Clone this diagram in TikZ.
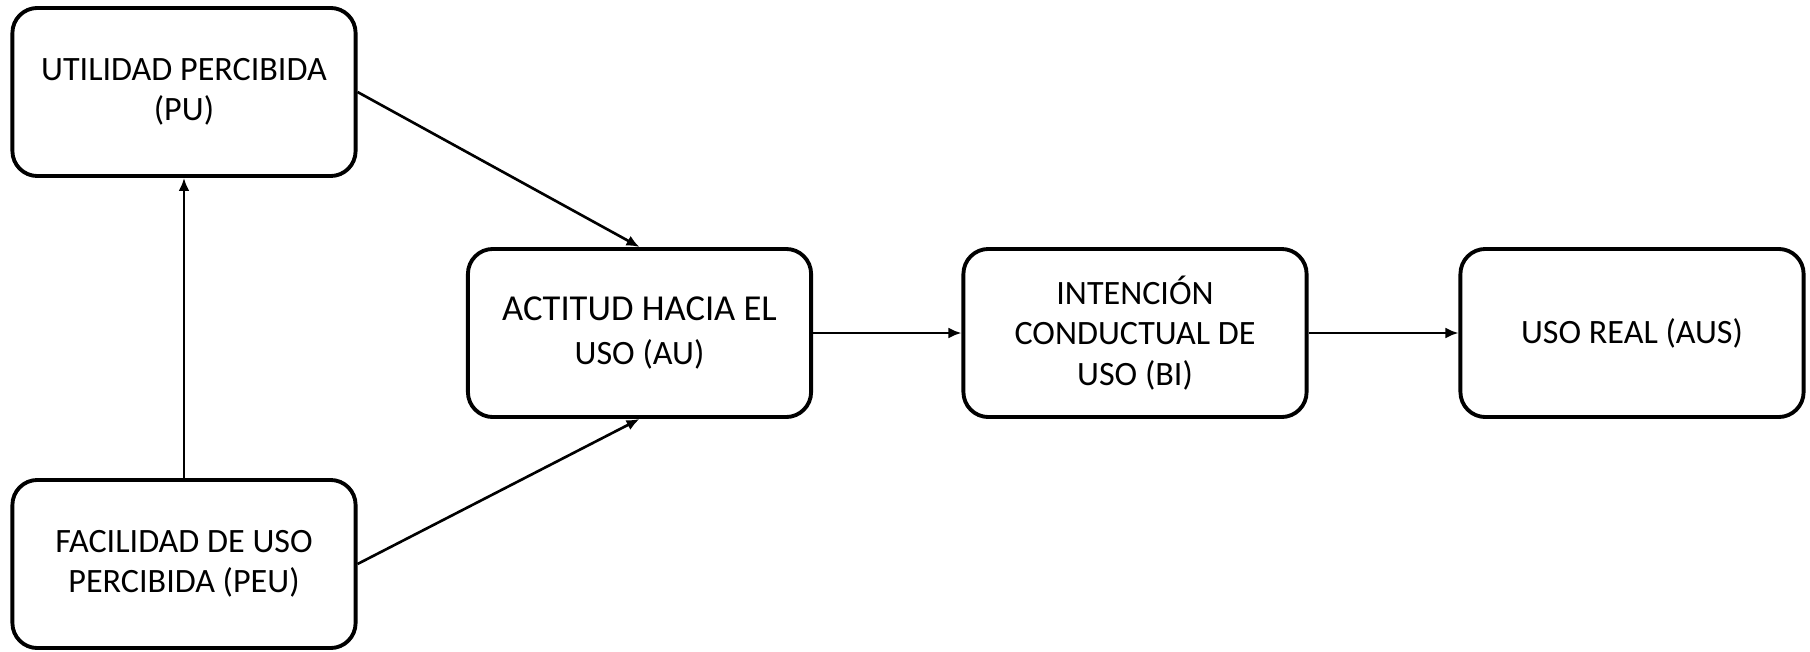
\documentclass[tikz,border=0pt]{standalone}
\usepackage{fontspec}
\setmainfont{Carlito}
\usetikzlibrary{arrows.meta}

\tikzset{
  modelbox/.style={draw, line width=1.1pt, rounded corners=0.25cm,
    minimum width=3.43cm, minimum height=1.68cm, align=center,
    inner sep=2pt, font=\fontsize{9.7}{11.5}\selectfont},
  flecha/.style={line width=0.75pt, -{Latex[length=1.3mm,width=1.1mm]}}
}

\begin{document}
\begin{tikzpicture}[x=0.01cm,y=0.01cm]
        \useasboundingbox (0,0) rectangle (1810,651);

        \node[modelbox] (pu) at (184,559) {UTILIDAD PERCIBIDA\\(PU)};
        \node[modelbox] (peu) at (184,87) {FACILIDAD DE USO\\PERCIBIDA (PEU)};
        \node[modelbox] (au) at (639.5,318) {{\fontsize{10.4}{11.5}\selectfont ACTITUD HACIA EL}\\[1pt]USO (AU)};
        \node[modelbox] (bi) at (1135,318) {INTENCIÓN\\CONDUCTUAL DE\\USO (BI)};
        \node[modelbox] (aus) at (1632,318) {USO REAL (AUS)};

        \draw[flecha] (peu.north) -- (pu.south);
        \draw[flecha] (pu.east) -- (au.north);
        \draw[flecha] (peu.east) -- (au.south);
        \draw[flecha] (au.east) -- (bi.west);
        \draw[flecha] (bi.east) -- (aus.west);

\end{tikzpicture}
\end{document}
